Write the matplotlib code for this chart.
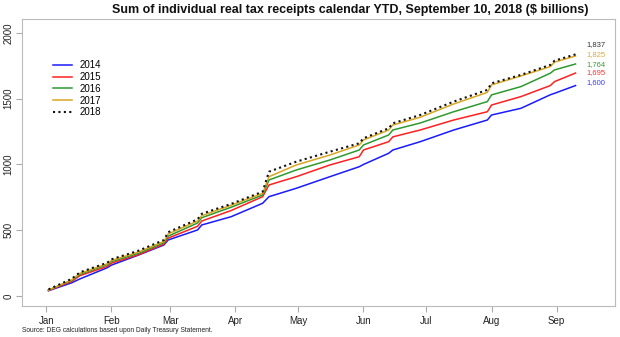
import matplotlib
matplotlib.use("Agg")
import matplotlib.pyplot as plt
import pandas as pd

# sample dates (month-day) and cumulative receipts, $ billions
dates = ["01-02", "01-13", "01-17", "01-30", "02-01", "02-14", "02-26", "02-28",
         "03-14", "03-16", "03-30", "04-14", "04-17", "04-30", "05-16", "05-30",
         "06-01", "06-13", "06-15", "06-28", "07-14", "07-30", "08-01", "08-15",
         "08-29", "08-31", "09-10"]

y2014 = [40, 100, 130, 215, 235, 312, 388, 426, 502, 540, 603, 705, 755, 819,
         907, 983, 1000, 1085, 1110, 1173, 1262, 1338, 1376, 1427, 1530, 1541, 1600]
y2015 = [42, 110, 155, 225, 250, 315, 395, 440, 530, 570, 650, 755, 844, 907,
         996, 1059, 1110, 1173, 1210, 1262, 1338, 1401, 1452, 1516, 1600, 1630, 1695]
y2016 = [45, 118, 165, 238, 262, 325, 405, 455, 555, 595, 675, 768, 882, 958,
         1034, 1110, 1148, 1224, 1262, 1315, 1401, 1478, 1529, 1592, 1694, 1719, 1764]
y2017 = [45, 122, 172, 245, 270, 335, 415, 472, 570, 610, 690, 781, 907, 996,
         1072, 1148, 1186, 1262, 1300, 1359, 1460, 1548, 1605, 1673, 1744, 1778, 1825]
y2018 = [50, 130, 180, 253, 279, 345, 426, 485, 583, 625, 700, 793, 945, 1021,
         1097, 1161, 1199, 1275, 1313, 1376, 1478, 1567, 1617, 1681, 1757, 1789, 1837]

years = ["2014", "2015", "2016", "2017", "2018"]
end_labels = ["1,600", "1,695", "1,764", "1,825", "1,837"]
months = ["Jan", "Feb", "Mar", "Apr", "May", "Jun", "Jul", "Aug", "Sep"]

colors = ["#1a1aff", "#ff2020", "#2e9a2e", "#daa520", "#111111"]
label_colors = ["#3b3bff", "#ff3030", "#3a9a3a", "#e0a830", "#333333"]
label_y = [1620, 1696, 1757, 1833, 1909]

plt.rcParams["font.family"] = ["Liberation Sans", "DejaVu Sans"]

days = [pd.Timestamp("2018-" + d).dayofyear - 1 for d in dates]
month_days = [pd.Timestamp(2018, m, 1).dayofyear - 1 for m in range(1, 10)]

fig = plt.figure(figsize=(6.2, 3.37), dpi=100)
ax = fig.add_axes([22 / 620, 31 / 337, 593 / 620, 287 / 337])

series = [y2014, y2015, y2016, y2017, y2018]
for i, vals in enumerate(series):
    if years[i] == "2018":
        ax.plot(days, vals, color=colors[i], lw=1.5, ls=(0, (1, 1.6)), label=years[i], zorder=5)
    else:
        ax.plot(days, vals, color=colors[i], lw=1.1, label=years[i])
    ax.text(days[-1] + 5, label_y[i], end_labels[i], color=label_colors[i],
            fontsize=5.5, va="center", ha="left")

ax.set_xlim(-11.6, 270.8)
ax.set_ylim(-76, 2106)
ax.set_xticks(month_days)
ax.set_xticklabels(months)
ax.set_yticks([0, 500, 1000, 1500, 2000])
ax.set_yticklabels(["0", "500", "1000", "1500", "2000"], rotation=90, va="center")

for s in ax.spines.values():
    s.set_color("#bbbbbb")
    s.set_linewidth(0.8)
ax.tick_params(axis="both", colors="#aaaaaa", labelcolor="#222222",
               labelsize=7, length=4, width=0.8)
ax.tick_params(axis="x", pad=3)
ax.tick_params(axis="y", pad=2)

ax.legend(loc="upper left", bbox_to_anchor=(0.052, 0.856), frameon=False,
          fontsize=7, handlelength=2.0, handletextpad=0.8, labelspacing=0.18,
          borderpad=0, borderaxespad=0)

fig.text(350 / 620, 1 - 10 / 337,
         "Sum of individual real tax receipts calendar YTD, September 10, 2018 ($ billions)",
         ha="center", va="center", fontsize=9, fontweight="bold", color="#111111")
fig.text(22 / 620, 1 - 331 / 337, "Source: DEG calculations based upon Daily Treasury Statement.",
         ha="left", va="center", fontsize=4.8, color="#222222")

fig.savefig("out.png", dpi=100)
